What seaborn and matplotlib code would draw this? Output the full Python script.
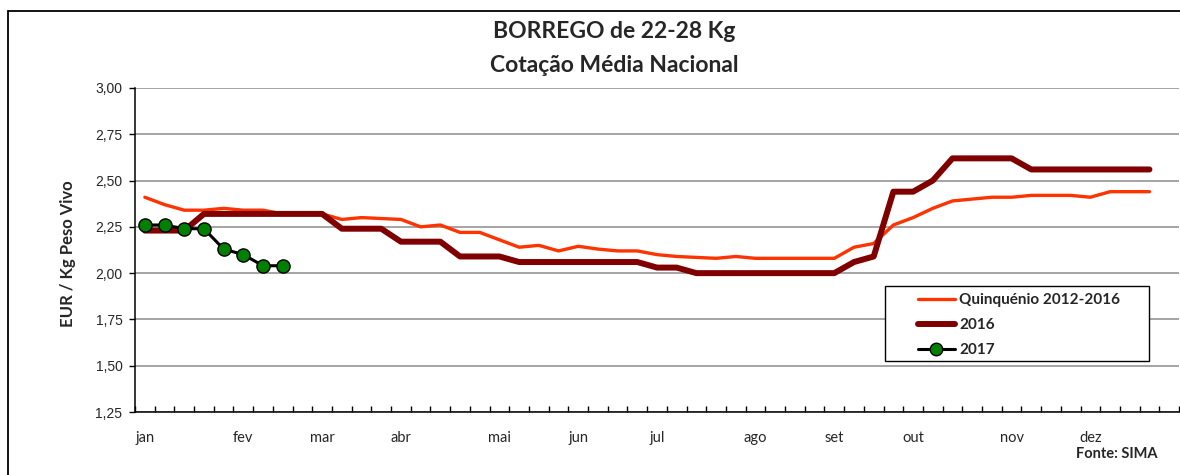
import matplotlib
matplotlib.use("Agg")
import matplotlib.pyplot as plt
import seaborn as sns
import pandas as pd
import numpy as np
from matplotlib.patches import Rectangle
from matplotlib.lines import Line2D

# ---------------- data ----------------
month_labels = ["jan", "fev", "mar", "abr", "mai", "jun", "jul", "ago", "set", "out", "nov", "dez"]
month_weeks = [0, 5, 9, 13, 18, 22, 26, 31, 35, 39, 44, 48]

quinquenio = [2.41, 2.37, 2.34, 2.34, 2.35, 2.34, 2.34, 2.32, 2.32, 2.32,
              2.29, 2.30, 2.295, 2.29, 2.25, 2.26, 2.22, 2.22, 2.18, 2.14,
              2.15, 2.12, 2.145, 2.13, 2.12, 2.12, 2.10, 2.09, 2.085, 2.08,
              2.09, 2.08, 2.08, 2.08, 2.08, 2.08, 2.14, 2.16, 2.26, 2.30,
              2.35, 2.39, 2.40, 2.41, 2.41, 2.42, 2.42, 2.42, 2.41, 2.44,
              2.44, 2.44]
y2016 = [2.23, 2.23, 2.23, 2.32, 2.32, 2.32, 2.32, 2.32, 2.32, 2.32,
         2.24, 2.24, 2.24, 2.17, 2.17, 2.17, 2.09, 2.09, 2.09, 2.06,
         2.06, 2.06, 2.06, 2.06, 2.06, 2.06, 2.03, 2.03, 2.00, 2.00,
         2.00, 2.00, 2.00, 2.00, 2.00, 2.00, 2.06, 2.09, 2.44, 2.44,
         2.50, 2.62, 2.62, 2.62, 2.62, 2.56, 2.56, 2.56, 2.56, 2.56,
         2.56, 2.56]
y2017 = [2.26, 2.26, 2.24, 2.24, 2.13, 2.10, 2.04, 2.04]

series_names = ["Quinquénio 2012-2016", "2016", "2017"]
y_ticks = [1.25, 1.50, 1.75, 2.00, 2.25, 2.50, 2.75, 3.00]

df_q = pd.DataFrame({"week": np.arange(len(quinquenio)), "value": quinquenio})
df_16 = pd.DataFrame({"week": np.arange(len(y2016)), "value": y2016})
df_17 = pd.DataFrame({"week": np.arange(len(y2017)), "value": y2017})

# ---------------- style ----------------
sns.set_style("white")
plt.rcParams["font.family"] = ["Liberation Sans", "DejaVu Sans"]
CAL = ["Lato", "DejaVu Sans"]

W, H = 1180, 475
fig = plt.figure(figsize=(W / 100, H / 100), dpi=100)
ax = fig.add_axes([135 / W, 1 - 412 / H, (1179 - 135) / W, (412 - 88) / H])

c_q = "#FF3300"
c_16 = "#800000"

sns.lineplot(data=df_q, x="week", y="value", ax=ax, color=c_q, linewidth=2.4,
             legend=False, zorder=3)
sns.lineplot(data=df_16, x="week", y="value", ax=ax, color=c_16, linewidth=4.3,
             legend=False, zorder=4)
sns.lineplot(data=df_17, x="week", y="value", ax=ax, color="black", linewidth=2.2,
             marker="o", markersize=9.5, markerfacecolor="#008000",
             markeredgecolor="black", markeredgewidth=1.0, legend=False, zorder=5)

ax.set_xlim(-0.5, 52.5)
ax.set_ylim(1.25, 3.00)
ax.set_xlabel("")
ax.set_ylabel("")

# y axis
ax.set_yticks(y_ticks)
ax.set_yticklabels([f"{v:.2f}".replace(".", ",") for v in y_ticks], fontsize=10)
ax.tick_params(axis="y", direction="out", length=4, width=1, pad=5, left=True, color="black")
ax.yaxis.grid(True, color="#8c8c8c", linewidth=1.1)
ax.set_axisbelow(True)

# x axis: month labels + weekly boundary ticks
ax.set_xticks(month_weeks)
ax.set_xticklabels(month_labels, fontsize=10.5, family=CAL)
ax.tick_params(axis="x", which="major", length=0, pad=14)
ax.set_xticks(np.arange(-0.5, 53, 1), minor=True)
ax.tick_params(axis="x", which="minor", direction="in", length=4, width=1,
               bottom=True, color="black")

for s in ["top", "right"]:
    ax.spines[s].set_visible(False)
for s in ["left", "bottom"]:
    ax.spines[s].set_color("black")
    ax.spines[s].set_linewidth(1.1)

# titles
fig.text(614 / W, 1 - 32 / H, "BORREGO de 22-28 Kg", ha="center", va="center",
         fontsize=16.5, fontweight="bold", family=CAL)
fig.text(614 / W, 1 - 66 / H, "Cotação Média Nacional", ha="center", va="center",
         fontsize=16.5, fontweight="bold", family=CAL)
fig.text(68 / W, 1 - 254 / H, "EUR / Kg Peso Vivo", ha="center", va="center",
         rotation=90, fontsize=12, fontweight="bold", family=CAL)
fig.text(1158 / W, 1 - 454 / H, "Fonte: SIMA", ha="right", va="center",
         fontsize=10.5, fontweight="bold", family=CAL)

# legend frame (drawn separately to match the reference's left indent)
leg_frame = Rectangle((885 / W, 1 - 361 / H), (1149 - 885) / W, (361 - 286) / H,
                      transform=fig.transFigure, facecolor="white", edgecolor="black",
                      linewidth=1.0, zorder=9, clip_on=False)
ax.add_patch(leg_frame)

handles = [
    Line2D([], [], color=c_q, linewidth=2.4),
    Line2D([], [], color=c_16, linewidth=4.3),
    Line2D([], [], color="black", linewidth=2.2, marker="o", markersize=9,
           markerfacecolor="#008000", markeredgecolor="black"),
]
leg = ax.legend(handles, series_names, loc="upper left",
                bbox_to_anchor=(911 / W, 1 - 286 / H),
                bbox_transform=fig.transFigure, borderaxespad=0,
                frameon=False, handlelength=2.4, handletextpad=0.3,
                labelspacing=0.72, borderpad=0.45,
                prop={"family": CAL, "weight": "bold", "size": 11})
leg.set_zorder(10)

# outer chart border (cropped on right and bottom)
fig.patches.append(Rectangle((8 / W, -0.1), 1.2, (H - 11) / H + 0.1, transform=fig.transFigure,
                             fill=False, edgecolor="black", linewidth=1.3, clip_on=False))

fig.savefig("out.png", dpi=100, facecolor="white")
